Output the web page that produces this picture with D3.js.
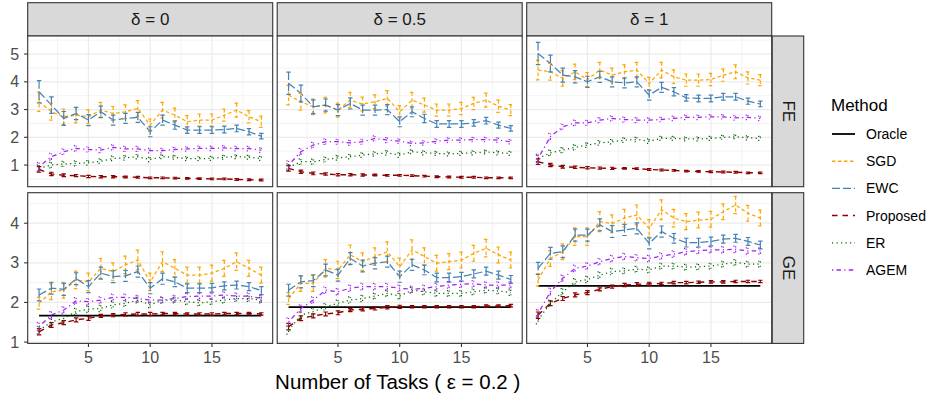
<!DOCTYPE html>
<html>
<head>
<meta charset="utf-8">
<script src="https://cdn.jsdelivr.net/npm/d3@7"></script>
<style>
  html, body { margin: 0; padding: 0; background: #fff; }
  svg { display: block; font-family: "Liberation Sans", Arial, sans-serif; }
</style>
</head>
<body>
<svg id="chart" width="928" height="396"></svg>
<script>
// ---------------- DATA ----------------
const tasks = [1,2,3,4,5,6,7,8,9,10,11,12,13,14,15,16,17,18,19];
const deltaLabels = ["δ = 0", "δ = 0.5", "δ = 1"];
const rowLabels = ["FE", "GE"];
const methods = ["Oracle", "SGD", "EWC", "Proposed", "ER", "AGEM"];
const xTicks = [5, 10, 15];
const yTicksFE = [1, 2, 3, 4, 5];
const yTicksGE = [1, 2, 3, 4];

// FE, delta = 0
const FE_d0_SGD      = [3.28,2.92,2.74,2.80,2.74,2.98,2.86,2.92,3.04,2.44,2.98,2.80,2.56,2.62,2.62,2.80,2.98,2.74,2.56];
const FE_d0_EWC      = [3.64,3.16,2.68,2.86,2.62,2.92,2.62,2.68,2.72,2.20,2.62,2.44,2.26,2.26,2.26,2.28,2.32,2.20,2.04];
const FE_d0_Proposed = [0.84,0.68,0.63,0.62,0.59,0.58,0.58,0.57,0.56,0.54,0.54,0.53,0.52,0.51,0.50,0.50,0.48,0.47,0.46];
const FE_d0_ER       = [0.88,1.00,1.04,1.06,1.08,1.14,1.24,1.26,1.30,1.20,1.30,1.28,1.23,1.23,1.24,1.28,1.30,1.28,1.24];
const FE_d0_AGEM     = [0.94,1.30,1.48,1.60,1.56,1.54,1.64,1.58,1.58,1.52,1.52,1.56,1.58,1.60,1.60,1.62,1.59,1.59,1.54];
// FE, delta = 0.5
const FE_d05_SGD      = [3.52,3.28,3.10,3.16,2.98,3.34,3.20,3.28,3.40,2.92,3.34,3.16,2.98,2.98,3.04,3.22,3.34,3.12,2.98];
const FE_d05_EWC      = [3.95,3.58,3.10,3.16,2.98,3.22,2.98,2.98,3.00,2.56,2.92,2.68,2.48,2.48,2.48,2.52,2.60,2.44,2.32];
const FE_d05_Proposed = [0.88,0.76,0.70,0.68,0.65,0.65,0.64,0.64,0.63,0.63,0.62,0.60,0.58,0.57,0.56,0.56,0.54,0.54,0.54];
const FE_d05_ER       = [0.92,1.12,1.12,1.20,1.26,1.30,1.36,1.40,1.44,1.36,1.48,1.44,1.42,1.40,1.42,1.44,1.47,1.44,1.42];
const FE_d05_AGEM     = [1.00,1.48,1.72,1.84,1.84,1.80,1.84,1.96,1.90,1.86,1.78,1.80,1.86,1.90,1.90,1.92,1.92,1.90,1.84];
// FE, delta = 1
const FE_d1_SGD      = [4.42,4.36,4.12,4.36,4.08,4.42,4.24,4.36,4.42,3.94,4.42,4.18,4.06,4.06,4.08,4.24,4.36,4.14,4.06];
const FE_d1_EWC      = [5.02,4.66,4.24,4.18,4.00,4.18,4.00,3.96,4.00,3.52,3.80,3.64,3.42,3.40,3.40,3.46,3.46,3.30,3.20];
const FE_d1_Proposed = [1.12,1.00,0.94,0.92,0.90,0.89,0.88,0.88,0.87,0.84,0.82,0.81,0.78,0.77,0.76,0.75,0.74,0.72,0.72];
const FE_d1_ER       = [1.24,1.44,1.54,1.64,1.72,1.80,1.84,1.90,1.92,1.86,1.96,1.96,1.94,1.94,1.96,2.00,2.02,1.98,1.96];
const FE_d1_AGEM     = [1.24,2.02,2.38,2.52,2.52,2.62,2.68,2.64,2.62,2.62,2.64,2.68,2.72,2.72,2.74,2.74,2.70,2.72,2.68];

// GE, delta = 0
const GE_d0_Oracle   = [1.67,1.67,1.67,1.67,1.67,1.67,1.67,1.67,1.67,1.67,1.67,1.67,1.67,1.67,1.67,1.67,1.67,1.67,1.67];
const GE_d0_SGD      = [1.98,2.27,2.31,2.57,2.52,2.86,2.78,2.95,3.07,2.52,3.03,2.86,2.69,2.69,2.74,2.86,3.03,2.86,2.69];
const GE_d0_EWC      = [2.19,2.36,2.33,2.60,2.40,2.74,2.65,2.67,2.78,2.36,2.60,2.52,2.36,2.36,2.37,2.42,2.44,2.40,2.30];
const GE_d0_Proposed = [1.26,1.43,1.49,1.56,1.60,1.66,1.68,1.70,1.71,1.71,1.72,1.72,1.71,1.71,1.71,1.72,1.72,1.72,1.71];
const GE_d0_ER       = [1.30,1.51,1.60,1.77,1.83,1.85,1.94,1.98,2.06,1.94,2.06,2.06,2.02,1.99,2.02,2.06,2.10,2.10,2.06];
const GE_d0_AGEM     = [1.39,1.68,1.81,2.04,2.02,2.06,2.13,2.13,2.10,2.06,2.06,2.10,2.15,2.16,2.16,2.19,2.16,2.16,2.10];
// GE, delta = 0.5
const GE_d05_Oracle   = [1.88,1.88,1.88,1.88,1.88,1.88,1.88,1.88,1.88,1.88,1.88,1.88,1.88,1.88,1.88,1.88,1.88,1.88,1.88];
const GE_d05_SGD      = [2.10,2.48,2.48,2.86,2.82,3.20,3.03,3.16,3.28,2.90,3.33,3.16,2.99,3.03,3.07,3.24,3.37,3.20,3.07];
const GE_d05_EWC      = [2.31,2.52,2.55,2.82,2.69,3.11,2.92,2.99,3.03,2.65,2.95,2.82,2.63,2.63,2.65,2.72,2.79,2.69,2.58];
const GE_d05_Proposed = [1.39,1.60,1.66,1.71,1.74,1.81,1.83,1.85,1.88,1.89,1.89,1.89,1.89,1.89,1.89,1.89,1.91,1.91,1.92];
const GE_d05_ER       = [1.30,1.68,1.77,1.89,1.98,2.06,2.10,2.16,2.23,2.16,2.31,2.27,2.23,2.23,2.23,2.27,2.31,2.29,2.25];
const GE_d05_AGEM     = [1.51,1.85,2.06,2.31,2.27,2.36,2.40,2.40,2.40,2.36,2.33,2.36,2.40,2.44,2.46,2.47,2.44,2.44,2.44];
// GE, delta = 1
const GE_d1_Oracle   = [2.42,2.42,2.42,2.42,2.42,2.42,2.42,2.42,2.42,2.42,2.42,2.42,2.42,2.42,2.42,2.42,2.42,2.42,2.42];
const GE_d1_SGD      = [2.57,3.11,3.28,3.66,3.66,4.04,3.99,4.13,4.21,3.87,4.34,4.13,4.04,4.08,4.10,4.29,4.46,4.25,4.13];
const GE_d1_EWC      = [2.86,3.24,3.28,3.70,3.70,3.96,3.79,3.83,3.87,3.49,3.79,3.62,3.51,3.51,3.54,3.60,3.62,3.54,3.45];
const GE_d1_Proposed = [1.68,1.98,2.10,2.19,2.25,2.33,2.40,2.44,2.46,2.47,2.48,2.50,2.50,2.51,2.52,2.52,2.53,2.53,2.53];
const GE_d1_ER       = [1.56,1.98,2.27,2.52,2.58,2.69,2.78,2.80,2.84,2.82,2.92,2.92,2.89,2.90,2.92,2.97,3.01,2.97,2.97];
const GE_d1_AGEM     = [1.72,2.27,2.61,2.86,2.92,3.03,3.11,3.16,3.13,3.11,3.17,3.22,3.28,3.31,3.33,3.33,3.34,3.30,3.30];

// Standard errors (half-widths of error bars)
const seFE_SGD      = [0.35,0.30,0.28,0.28,0.25,0.28,0.25,0.25,0.28,0.22,0.28,0.25,0.22,0.22,0.22,0.22,0.25,0.22,0.20];
const seFE_EWC      = [0.40,0.30,0.25,0.22,0.20,0.20,0.18,0.18,0.18,0.18,0.18,0.15,0.12,0.12,0.12,0.12,0.12,0.11,0.10];
const seFE_Proposed = [0.10,0.06,0.05,0.04,0.04,0.04,0.04,0.03,0.03,0.03,0.03,0.03,0.03,0.03,0.03,0.03,0.03,0.03,0.03];
const seFE_ER       = [0.12,0.10,0.09,0.09,0.08,0.08,0.08,0.08,0.08,0.08,0.07,0.07,0.07,0.07,0.07,0.07,0.07,0.07,0.07];
const seFE_AGEM     = [0.15,0.12,0.10,0.10,0.09,0.09,0.09,0.09,0.09,0.08,0.08,0.08,0.08,0.08,0.08,0.08,0.08,0.08,0.08];
const seGE_Oracle   = [0,0,0,0,0,0,0,0,0,0,0,0,0,0,0,0,0,0,0];
const seGE_SGD      = [0.15,0.20,0.20,0.22,0.22,0.25,0.22,0.22,0.25,0.22,0.25,0.22,0.20,0.20,0.20,0.20,0.22,0.20,0.20];
const seGE_EWC      = [0.15,0.15,0.15,0.15,0.15,0.15,0.15,0.14,0.14,0.14,0.14,0.12,0.11,0.11,0.11,0.10,0.10,0.10,0.10];
const seGE_Proposed = [0.08,0.06,0.05,0.05,0.05,0.04,0.04,0.04,0.04,0.04,0.03,0.03,0.03,0.03,0.03,0.03,0.03,0.03,0.03];
const seGE_ER       = [0.10,0.08,0.08,0.08,0.08,0.08,0.08,0.07,0.07,0.07,0.07,0.07,0.07,0.07,0.07,0.07,0.07,0.07,0.07];
const seGE_AGEM     = [0.10,0.09,0.08,0.08,0.08,0.08,0.08,0.08,0.08,0.08,0.08,0.08,0.08,0.08,0.08,0.08,0.08,0.08,0.08];

// ---------------- TABLES BUILT FROM ARRAYS ----------------
const panelSeries = [
  [ // FE
    {SGD: FE_d0_SGD, EWC: FE_d0_EWC, Proposed: FE_d0_Proposed, ER: FE_d0_ER, AGEM: FE_d0_AGEM},
    {SGD: FE_d05_SGD, EWC: FE_d05_EWC, Proposed: FE_d05_Proposed, ER: FE_d05_ER, AGEM: FE_d05_AGEM},
    {SGD: FE_d1_SGD, EWC: FE_d1_EWC, Proposed: FE_d1_Proposed, ER: FE_d1_ER, AGEM: FE_d1_AGEM}
  ],
  [ // GE
    {Oracle: GE_d0_Oracle, SGD: GE_d0_SGD, EWC: GE_d0_EWC, Proposed: GE_d0_Proposed, ER: GE_d0_ER, AGEM: GE_d0_AGEM},
    {Oracle: GE_d05_Oracle, SGD: GE_d05_SGD, EWC: GE_d05_EWC, Proposed: GE_d05_Proposed, ER: GE_d05_ER, AGEM: GE_d05_AGEM},
    {Oracle: GE_d1_Oracle, SGD: GE_d1_SGD, EWC: GE_d1_EWC, Proposed: GE_d1_Proposed, ER: GE_d1_ER, AGEM: GE_d1_AGEM}
  ]
];
const rowSE = [
  {SGD: seFE_SGD, EWC: seFE_EWC, Proposed: seFE_Proposed, ER: seFE_ER, AGEM: seFE_AGEM},
  {Oracle: seGE_Oracle, SGD: seGE_SGD, EWC: seGE_EWC, Proposed: seGE_Proposed, ER: seGE_ER, AGEM: seGE_AGEM}
];

// ---------------- STYLE ----------------
const colors = {Oracle: "#000000", SGD: "#FFA500", EWC: "#4682B4", Proposed: "#8B0000", ER: "#006400", AGEM: "#A020F0"};
const dashes = {Oracle: null, SGD: "3.5,2.5", EWC: "8,3", Proposed: "5.5,5", ER: "1.2,3.3", AGEM: "1.2,3.3,4.5,3.3"};
const widths = {Oracle: 1.7, SGD: 1.25, EWC: 1.25, Proposed: 1.4, ER: 1.25, AGEM: 1.25};

// ---------------- LAYOUT ----------------
const svg = d3.select("#chart");
const panelX = [27.7, 277.2, 526.7];
const panelW = 245;
const panelY = [36, 192.7];
const panelH = 150.7;
const yDomains = [[0.22, 5.65], [0.967, 4.77]];
const yTicksRows = [yTicksFE, yTicksGE];

const x = d3.scaleLinear().domain([0.08, 19.92]).range([0, panelW]);

const grid = "#EBEBEB";
const border = "#333333";

// top strips
deltaLabels.forEach((lab, c) => {
  svg.append("rect").attr("x", panelX[c]).attr("y", 2.7).attr("width", panelW).attr("height", panelY[0] - 2.7)
    .attr("fill", "#D9D9D9").attr("stroke", border).attr("stroke-width", 1.1);
  svg.append("text").attr("x", panelX[c] + panelW / 2).attr("y", 19.5)
    .attr("text-anchor", "middle").attr("dominant-baseline", "central")
    .attr("font-size", 17).attr("fill", "#1A1A1A").text(lab);
});

// right strips
rowLabels.forEach((lab, r) => {
  const sx = panelX[2] + panelW + 0.5;
  svg.append("rect").attr("x", sx).attr("y", panelY[r]).attr("width", 31.5).attr("height", panelH)
    .attr("fill", "#D9D9D9").attr("stroke", border).attr("stroke-width", 1.1);
  svg.append("text").attr("transform", `translate(${sx + 16},${panelY[r] + panelH / 2}) rotate(90)`)
    .attr("text-anchor", "middle").attr("dominant-baseline", "central")
    .attr("font-size", 17).attr("fill", "#1A1A1A").text(lab);
});

const xMinor = [2.5, 7.5, 12.5, 17.5];

rowLabels.forEach((rl, r) => {
  const y = d3.scaleLinear().domain(yDomains[r]).range([panelH, 0]);
  const yMaj = yTicksRows[r];
  const yMin = [];
  for (let i = 0; i < yMaj.length + 1; i++) {
    const v = yMaj[0] - 0.5 + i;
    if (v > yDomains[r][0] && v < yDomains[r][1]) yMin.push(v);
  }
  deltaLabels.forEach((dl, c) => {
    const g = svg.append("g").attr("transform", `translate(${panelX[c]},${panelY[r]})`);
    g.append("rect").attr("width", panelW).attr("height", panelH).attr("fill", "#fff");
    // minor grid
    g.selectAll(".ymin").data(yMin).enter().append("line")
      .attr("x1", 0).attr("x2", panelW).attr("y1", d => y(d)).attr("y2", d => y(d))
      .attr("stroke", grid).attr("stroke-width", 0.6);
    g.selectAll(".xmin").data(xMinor).enter().append("line")
      .attr("y1", 0).attr("y2", panelH).attr("x1", d => x(d)).attr("x2", d => x(d))
      .attr("stroke", grid).attr("stroke-width", 0.6);
    // major grid
    g.selectAll(".ymaj").data(yMaj).enter().append("line")
      .attr("x1", 0).attr("x2", panelW).attr("y1", d => y(d)).attr("y2", d => y(d))
      .attr("stroke", grid).attr("stroke-width", 1.2);
    g.selectAll(".xmaj").data(xTicks).enter().append("line")
      .attr("y1", 0).attr("y2", panelH).attr("x1", d => x(d)).attr("x2", d => x(d))
      .attr("stroke", grid).attr("stroke-width", 1.2);

    const series = panelSeries[r][c];
    const line = d3.line().x((d, i) => x(tasks[i])).y(d => y(d));
    const present = methods.filter(m => series[m]);
    // lines
    present.forEach(m => {
      g.append("path").datum(series[m]).attr("d", line)
        .attr("fill", "none").attr("stroke", colors[m]).attr("stroke-width", widths[m])
        .attr("stroke-dasharray", dashes[m]);
    });
    // error bars
    const capHalf = (x(1.18) - x(1));
    present.forEach(m => {
      const se = rowSE[r][m];
      if (m === "Oracle") return;
      const eg = g.append("g").attr("stroke", colors[m]).attr("stroke-width", 1.2)
        .attr("stroke-dasharray", dashes[m]).attr("fill", "none");
      series[m].forEach((v, i) => {
        const cx = x(tasks[i]);
        const y1 = y(v - se[i]), y2 = y(v + se[i]);
        eg.append("path").attr("d",
          `M${cx - capHalf},${y2}H${cx + capHalf}M${cx},${y2}V${y1}M${cx - capHalf},${y1}H${cx + capHalf}`);
      });
    });
    // border
    g.append("rect").attr("width", panelW).attr("height", panelH)
      .attr("fill", "none").attr("stroke", border).attr("stroke-width", 1.1);

    // y axis on first column
    if (c === 0) {
      const ya = g.append("g");
      yMaj.forEach(t => {
        ya.append("line").attr("x1", -3.6).attr("x2", 0).attr("y1", y(t)).attr("y2", y(t))
          .attr("stroke", border).attr("stroke-width", 1.1);
        ya.append("text").attr("x", -8.5).attr("y", y(t)).attr("text-anchor", "end")
          .attr("dominant-baseline", "central").attr("font-size", 16).attr("fill", "#4D4D4D").text(t);
      });
    }
    // x axis on bottom row
    if (r === 1) {
      xTicks.forEach(t => {
        g.append("line").attr("x1", x(t)).attr("x2", x(t)).attr("y1", panelH).attr("y2", panelH + 3.6)
          .attr("stroke", border).attr("stroke-width", 1.1);
        g.append("text").attr("x", x(t)).attr("y", panelH + 14).attr("text-anchor", "middle")
          .attr("dominant-baseline", "central").attr("font-size", 16).attr("fill", "#4D4D4D").text(t);
      });
    }
  });
});

// x axis title
svg.append("text").attr("x", (panelX[0] + panelX[2] + panelW) / 2 - 2).attr("y", 381)
  .attr("text-anchor", "middle").attr("dominant-baseline", "central")
  .attr("font-size", 20.5).attr("fill", "#000").text("Number of Tasks ( ε = 0.2 )");

// legend
const lg = svg.append("g").attr("transform", "translate(831,0)");
lg.append("text").attr("x", 0).attr("y", 105).attr("dominant-baseline", "central")
  .attr("font-size", 17).attr("fill", "#000").text("Method");
methods.forEach((m, i) => {
  const yy = 134 + i * 27.2;
  lg.append("line").attr("x1", 1).attr("x2", 24).attr("y1", yy).attr("y2", yy)
    .attr("stroke", colors[m]).attr("stroke-width", widths[m] + 0.1).attr("stroke-dasharray", dashes[m]);
  lg.append("text").attr("x", 35).attr("y", yy).attr("dominant-baseline", "central")
    .attr("font-size", 14).attr("fill", "#000").text(m);
});
</script>
</body>
</html>
